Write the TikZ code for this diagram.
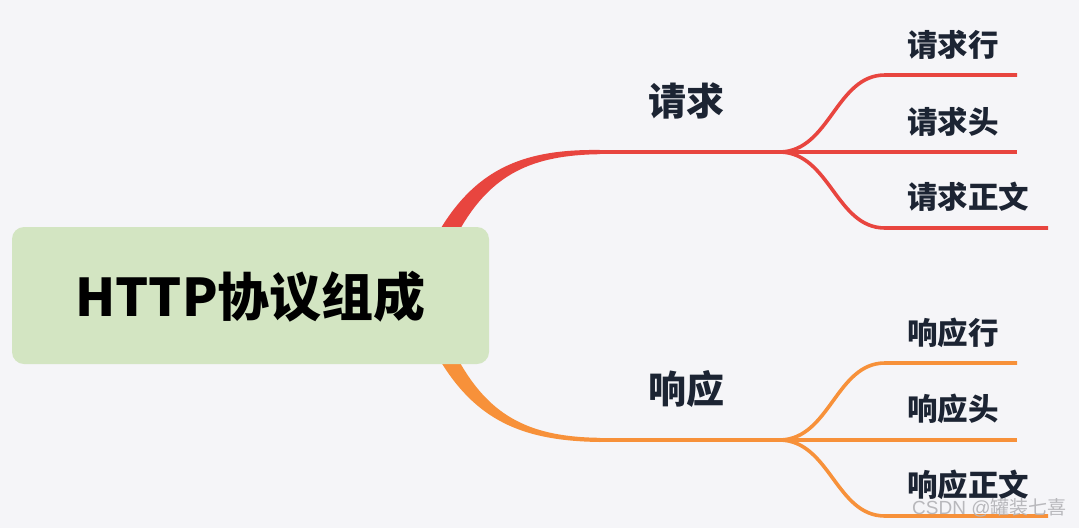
\documentclass[tikz,border=0pt]{standalone}
\usepackage{fontspec}
\setmainfont{Noto Sans CJK SC}
\setsansfont{Liberation Sans}
\newfontfamily\wmfont{Noto Sans CJK SC}
\definecolor{bg}{HTML}{F5F5F8}
\definecolor{rootfill}{HTML}{D3E5C2}
\definecolor{redline}{HTML}{E8453F}
\definecolor{orangeline}{HTML}{F7913A}
\definecolor{txt}{HTML}{1C2433}
\definecolor{wm}{HTML}{B8B8BC}
\tikzset{
  rootbox/.style={fill=rootfill, rounded corners=12pt, minimum width=477pt, minimum height=137pt, inner sep=0pt},
  roottext/.style={font=\fontsize{52}{52}\selectfont\bfseries, text=black},
  branchtext/.style={font=\fontsize{38}{38}\selectfont\bfseries, text=txt, inner sep=0pt},
  leaftext/.style={font=\fontsize{30.5}{30.5}\selectfont\bfseries, text=txt, anchor=west, inner sep=0pt},
  redthin/.style={draw=redline, line width=3.6pt},
  orangethin/.style={draw=orangeline, line width=3.6pt},
}
\begin{document}
\begin{tikzpicture}[x=1pt,y=-1pt]
\useasboundingbox (0,0) rectangle (1079,528);
\fill[bg] (0,0) rectangle (1079,528);
% coordinates
\coordinate (rs) at (600,152);
\coordinate (rb) at (780,152);
\coordinate (r1) at (1017,75);
\coordinate (r2) at (1017,152);
\coordinate (r3) at (1048,228);
\coordinate (os) at (600,440);
\coordinate (ob) at (780,440);
\coordinate (o1) at (1017,363);
\coordinate (o2) at (1017,440);
\coordinate (o3) at (1048,516);
% tapered main branches
\fill[redline] (441,228) .. controls (479,166) and (528,149) .. (600,150) -- (600,154.2) .. controls (532,155) and (491,174) .. (459,231) -- cycle;
\fill[orangeline] (441,362) .. controls (479,424) and (528,441) .. (600,442) -- (600,437.8) .. controls (532,437) and (491,418) .. (459,361) -- cycle;
% root
\node[rootbox] (root) at (250.5,295.5) {};
\node[roottext] (roott) at (250.5,297) {HTTP协议组成};
% branch labels
\node[branchtext] (req) at (686,101) {请求};
\node[branchtext] (resp) at (686,389) {响应};
% red lines
\draw[redthin] (rs) -- (rb);
\draw[redthin] (rb) .. controls (830,151) and (836,75) .. (885,75) -- (r1);
\draw[redthin] (rb) -- (r2);
\draw[redthin] (rb) .. controls (830,153) and (836,228) .. (885,228) -- (r3);
% orange lines
\draw[orangethin] (os) -- (ob);
\draw[orangethin] (ob) .. controls (830,439) and (836,363) .. (885,363) -- (o1);
\draw[orangethin] (ob) -- (o2);
\draw[orangethin] (ob) .. controls (830,441) and (836,516) .. (885,516) -- (o3);
% leaves
\node[leaftext] (l1) at (907,45) {请求行};
\node[leaftext] (l2) at (907,122) {请求头};
\node[leaftext] (l3) at (907,197) {请求正文};
\node[leaftext] (l4) at (907,333) {响应行};
\node[leaftext] (l5) at (907,409) {响应头};
\node[leaftext] (l6) at (907,485) {响应正文};
% watermark
\node[font=\fontsize{19}{19}\selectfont\wmfont, text=wm, anchor=west, inner sep=0pt] (wmark) at (912,508) {{\sffamily CSDN @}罐装七喜};
\end{tikzpicture}
\end{document}
